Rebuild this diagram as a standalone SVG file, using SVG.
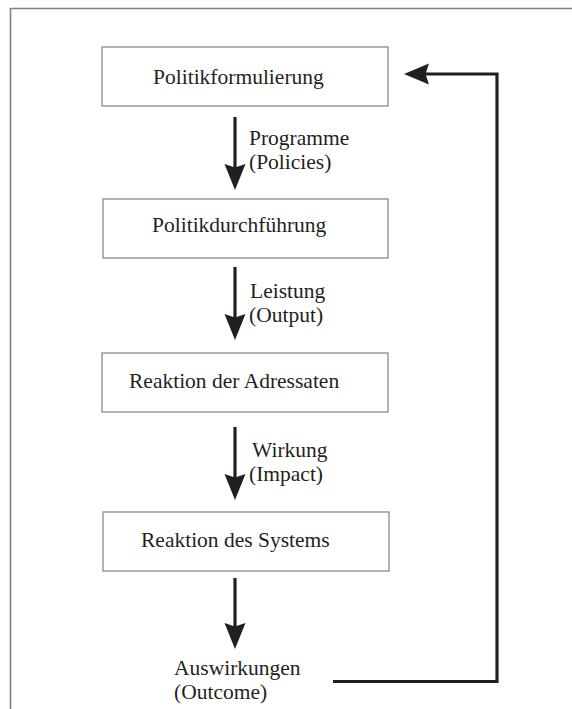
<svg xmlns="http://www.w3.org/2000/svg" width="572" height="709" viewBox="0 0 572 709">
  <style>
    .frame { fill: none; stroke: #808080; stroke-width: 1.6; }
    .box { fill: #ffffff; stroke: #8a8a8a; stroke-width: 1.3; }
    .t { font-family: 'Liberation Serif', Tinos, 'Times New Roman', Times, serif; font-size: 21.5px; fill: #231f20; }
    .shaft { fill: none; stroke: #231f20; stroke-width: 3.2; }
    .head { fill: #231f20; stroke: none; }
  </style>

  <rect width="572" height="709" fill="#ffffff"/>
  <!-- page frame -->
  <path class="frame" d="M10.5,709 V8.5 H572"/>

  <g id="n1">
    <rect class="box" x="102" y="47" width="286" height="59"/>
    <text class="t" x="153" y="84">Politikformulierung</text>
  </g>
  <g id="n2">
    <rect class="box" x="103" y="199" width="285" height="59"/>
    <text class="t" x="152" y="232">Politikdurchführung</text>
  </g>
  <g id="n3">
    <rect class="box" x="102" y="353" width="286" height="59"/>
    <text class="t" x="129" y="388">Reaktion der Adressaten</text>
  </g>
  <g id="n4">
    <rect class="box" x="103" y="512" width="286" height="59"/>
    <text class="t" x="141" y="547">Reaktion des Systems</text>
  </g>
  <g id="n5">
    <text class="t" x="174" y="675">Auswirkungen</text>
    <text class="t" x="174" y="699">(Outcome)</text>
  </g>

  <g id="connectors">
    <!-- Politikformulierung -> Politikdurchführung -->
    <line class="shaft" x1="235" y1="117" x2="235" y2="170"/>
    <path class="head" d="M235,190 L224.5,164 L235,167.5 L245.5,164 Z"/>
    <text class="t" x="249" y="145">Programme</text>
    <text class="t" x="249" y="169">(Policies)</text>

    <!-- Politikdurchführung -> Reaktion der Adressaten -->
    <line class="shaft" x1="235" y1="267" x2="235" y2="320"/>
    <path class="head" d="M235,340 L224.5,314 L235,317.5 L245.5,314 Z"/>
    <text class="t" x="250" y="298">Leistung</text>
    <text class="t" x="249" y="322">(Output)</text>

    <!-- Reaktion der Adressaten -> Reaktion des Systems -->
    <line class="shaft" x1="235" y1="427" x2="235" y2="480"/>
    <path class="head" d="M235,500 L224.5,474 L235,477.5 L245.5,474 Z"/>
    <text class="t" x="252" y="457">Wirkung</text>
    <text class="t" x="249" y="481">(Impact)</text>

    <!-- Reaktion des Systems -> Auswirkungen -->
    <line class="shaft" x1="235" y1="578" x2="235" y2="630"/>
    <path class="head" d="M235,649 L224.5,623 L235,626.5 L245.5,623 Z"/>

    <!-- feedback loop back to Politikformulierung -->
    <path class="shaft" d="M333,681.5 H497 V74 H424" stroke-width="3.5"/>
    <path class="head" d="M404,74 L429,63.5 L425.5,74 L429,84.5 Z"/>
  </g>
</svg>
